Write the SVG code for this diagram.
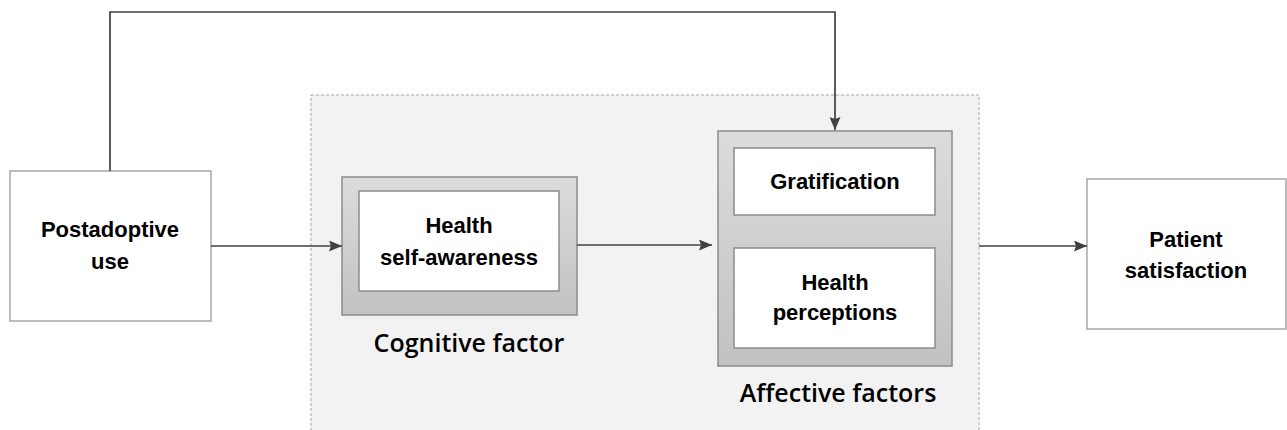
<svg xmlns="http://www.w3.org/2000/svg" width="1287" height="430" viewBox="0 0 1287 430">
<style>
.box{fill:#fff;stroke:#a6a6a6;stroke-width:1.5}
.outer{fill:url(#g);stroke:#8c8c8c;stroke-width:1.5}
.inner{fill:#fff;stroke:#8c8c8c;stroke-width:1.5}
.t{font-family:"Liberation Sans",Arial,sans-serif;font-weight:bold;font-size:22px;fill:#000;text-anchor:middle}
.lab{font-family:"Open Sans","Liberation Sans",Arial,sans-serif;font-weight:600;font-size:25px;fill:#000;text-anchor:middle}
.c{fill:none;stroke:#404040;stroke-width:1.7}
</style>
<defs>
<linearGradient id="g" x1="0" y1="0" x2="0" y2="1">
<stop offset="0" stop-color="#dcdcdc"/>
<stop offset="1" stop-color="#c2c2c2"/>
</linearGradient>
<marker id="a" viewBox="0 0 13 11" refX="13" refY="5.5" markerWidth="13" markerHeight="11" markerUnits="userSpaceOnUse" orient="auto">
<path d="M0,0 L13,5.5 L0,11 L2,5.5 Z" fill="#404040"/>
</marker>
</defs>
<rect width="1287" height="430" fill="#fff"/>
<g id="container">
<rect x="311" y="95" width="668" height="340" fill="#f2f2f2" stroke="#a6a6a6" stroke-width="1" stroke-dasharray="3,2"/>
</g>
<g id="postadoptive">
<rect class="box" x="10" y="171" width="201" height="150"/>
<text class="t" x="110" y="237">Postadoptive</text>
<text class="t" x="110" y="269">use</text>
</g>
<g id="cognitive">
<rect class="outer" x="342" y="177" width="235" height="138"/>
<rect class="inner" x="359" y="191" width="200" height="100"/>
<text class="t" x="459" y="233">Health</text>
<text class="t" x="459" y="265">self-awareness</text>
<text class="lab" x="469" y="352">Cognitive factor</text>
</g>
<g id="affective">
<rect class="outer" x="718" y="131" width="234" height="235"/>
<rect class="inner" x="734" y="148" width="201" height="67"/>
<text class="t" x="835" y="189">Gratification</text>
<rect class="inner" x="734" y="248" width="201" height="100"/>
<text class="t" x="835" y="290">Health</text>
<text class="t" x="835" y="320">perceptions</text>
<text class="lab" x="838" y="402">Affective factors</text>
</g>
<g id="patient">
<rect class="box" x="1087" y="179" width="199" height="150"/>
<text class="t" x="1186" y="247">Patient</text>
<text class="t" x="1186" y="278">satisfaction</text>
</g>
<g id="connectors">
<path class="c" d="M110,171 V12 H835 V130" marker-end="url(#a)"/>
<path class="c" d="M211,246 H342" marker-end="url(#a)"/>
<path class="c" d="M577,245 H712" marker-end="url(#a)"/>
<path class="c" d="M979,246 H1087" marker-end="url(#a)"/>
</g>
</svg>
